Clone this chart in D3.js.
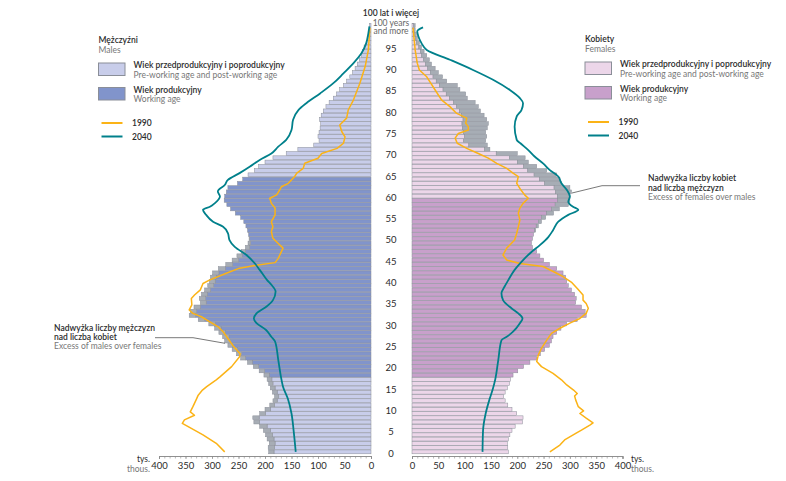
<!DOCTYPE html>
<html>
<head>
<meta charset="utf-8">
<script src="https://cdn.jsdelivr.net/npm/d3@7"></script>
<style>
  body { margin: 0; background: #fff; }
  svg { font-family: Lato, "Noto Sans", sans-serif; }
</style>
</head>
<body>
<svg id="chart" width="786" height="481"></svg>
<script>
// population by single year of age 0..100+, thousands
var males = [193,194,192,196,199,203,210,221,223,210,
  200,191,185,182,186,190,193,196,202,211,
  222,233,246,254,262,270,276,280,287,295,
  306,326,343,341,334,322,324,320,314,308,
  305,303,299,288,274,262,253,245,237,232,
  230,231,233,236,240,246,256,265,272,277,
  276,273,270,252,242,232,220,212,200,185,
  160,138,108,98,100,98,96,95,97,94,
  90,85,79,71,65,59,52,46,40,35,
  30,26,22,18,16,13,9,7,5,3,3];
var females = [183,182,181,183,186,190,196,210,211,199,
  190,182,177,174,177,181,185,187,192,201,
  212,224,237,244,252,261,265,268,275,283,
  294,314,331,329,322,311,312,309,303,297,
  294,292,287,275,261,250,243,237,229,227,
  229,231,235,240,246,254,269,280,297,300,
  300,303,300,284,281,275,256,237,221,215,
  200,148,143,140,142,140,143,145,142,137,
  130,126,120,105,102,91,86,66,58,50,
  44,37,33,28,23,18,14,10,8,6,6];

// [age, thousands]
var males1990 = [[0,276],[2,292],[4,317],[5.5,339],[6.7,356],[7.5,352],[8.6,333],[9.4,341],[10.6,336],[12.2,330],[13.3,326],[14.5,318],[15.3,310],[16.9,292],[17.6,285],[20,263],[22.3,248],[23,247],[24.7,259],[26.6,270],[28.2,279],[29.4,289],[30.5,304],[31.7,320],[32.5,336],[33.3,343],[34.5,338],[36,339],[36.8,333],[38,322],[39.5,317],[40.3,305],[41.9,273],[43.1,248],[43.8,216],[44.4,181],[45.4,175],[47.8,166],[48.9,175],[50.1,185],[51.7,188],[52.8,185],[54,188],[55.6,181],[57.2,181],[58.3,188],[59.5,191],[60.3,178],[61.5,172],[62.2,169],[63,156],[64.6,144],[65.4,140],[66.5,128],[67.7,125],[68.9,100],[70,93],[71.2,64],[72.4,52],[73.9,49],[75.1,55],[76.7,59],[78.3,46],[80.2,43],[82.6,33],[86.5,21],[90.4,11],[94.3,5],[99.5,2]];
var females1990 = [[0,262],[1.6,281],[2.8,290],[4.4,312],[5.1,322],[6.3,338],[6.8,344],[7.9,331],[9,319],[9.6,326],[10.6,316],[12.2,311],[13.1,309],[13.7,314],[14.5,307],[15.7,294],[16.9,284],[18.4,268],[20,246],[21.2,237],[22.7,240],[24.3,246],[26.2,256],[27.8,265],[29,281],[30.2,300],[31.3,319],[32.5,331],[33.7,335],[34.8,331],[35.6,325],[36.8,325],[38.2,315],[39.7,304],[41.1,287],[41.9,275],[43.5,249],[44.2,205],[45,180],[46.2,173],[47.8,180],[49.7,195],[51.3,199],[52.8,202],[54.4,205],[56,202],[57.2,205],[58.3,211],[59.5,221],[60.3,214],[61.8,205],[63,199],[64.6,202],[65.4,192],[66.5,180],[67.7,161],[68.9,145],[70,126],[71.2,104],[72.4,86],[73.6,82],[74.7,88],[75.5,107],[76.3,107],[77.1,102],[78.3,104],[79.4,85],[81,72],[82.6,56],[84.9,44],[88,28],[89.6,14],[91.2,10],[94.3,6],[99.5,2]];
var males2040 = [[0,142],[5,146],[9,150],[12.5,157],[15.3,166],[17,169],[21.6,175],[25.9,181],[27,188],[28.6,198],[30.2,216],[31.3,221],[32.5,216],[34.1,197],[35.6,185],[37.6,180],[39.2,188],[40.3,196],[42.7,210],[44.2,219],[46.2,235],[48.1,257],[49.7,267],[51.3,270],[52.8,279],[54,298],[55.6,311],[56.8,317],[57.5,304],[58.3,295],[59.9,285],[61.1,289],[62.6,276],[63.8,270],[65.4,248],[66.9,229],[68.5,210],[70,188],[71.6,175],[73.2,160],[75.5,150],[77.9,147],[80.2,137],[81.8,122],[84.1,96],[86.5,71],[88.8,52],[91.2,33],[93.5,18],[95.9,9],[98.2,5],[99.8,3]];
var females2040 = [[0,134],[5,135],[9,140],[12.2,147],[14.5,153],[16.9,158],[21.6,164],[26.2,170],[27,180],[28.2,192],[30.2,205],[31.3,210],[32.5,202],[33.7,189],[35.6,173],[37.2,170],[38.8,176],[40.3,183],[42.7,195],[44.6,208],[46.9,227],[48.5,243],[50.4,259],[52,268],[54,278],[55.6,297],[56.8,316],[57.5,306],[58.7,297],[59.9,300],[61.5,294],[63,284],[64.6,278],[66.1,262],[67.7,249],[69.3,233],[70.8,221],[72.4,206],[73.2,199],[76.3,195],[78.7,199],[80.2,208],[81.8,211],[83,205],[84.9,186],[87.3,154],[89.6,116],[92,72],[94.3,28],[95.9,18],[97.5,12],[98.7,10],[99.6,21]];

var ageTicks = d3.range(0, 100, 5);
var valueTicks = [0, 50, 100, 150, 200, 250, 300, 350, 400];
var workAge = {m: [18, 64], f: [18, 59]};

var col = {
  mLight: "#c8cdea", mDark: "#8194cb",
  fLight: "#ecd6e9", fDark: "#c8a0cb",
  excess: "#a7adb5", stroke: "#8a8e98",
  y1990: "#fbb316", y2040: "#00808b",
  text: "#2b2b2b", sub: "#777"
};

var svg = d3.select("#chart");
var y = d3.scaleLinear().domain([0, 101]).range([454, 23.5]);
var xL = d3.scaleLinear().domain([0, 400]).range([371, 159]);
var xR = d3.scaleLinear().domain([0, 400]).range([412, 622.5]);
var ages = d3.range(0, 101);

function drawSide(xs, own, other, light, dark, range) {
  var g = svg.append("g");
  ages.forEach(function (a) {
    var v = own[a], o = other[a], base = Math.min(v, o);
    var working = a >= range[0] && a <= range[1];
    var top = y(a + 1) + 0.2, h = y(a) - y(a + 1) - 0.4;
    g.append("rect")
      .attr("x", Math.min(xs(0), xs(base))).attr("y", top)
      .attr("width", Math.abs(xs(base) - xs(0))).attr("height", h)
      .attr("fill", working ? dark : light)
      .attr("stroke", col.stroke).attr("stroke-width", 0.5);
    if (v > o) {
      g.append("rect")
        .attr("x", Math.min(xs(base), xs(v))).attr("y", top)
        .attr("width", Math.abs(xs(v) - xs(base))).attr("height", h)
        .attr("fill", col.excess)
        .attr("stroke", col.stroke).attr("stroke-width", 0.5);
    }
  });
}
drawSide(xL, males, females, col.mLight, col.mDark, workAge.m);
drawSide(xR, females, males, col.fLight, col.fDark, workAge.f);

function drawLine(xs, data, color, w, curve) {
  var line = d3.line()
    .x(function (d) { return xs(d[1]); })
    .y(function (d) { return y(d[0] + 0.5); })
    .curve(curve);
  svg.append("path").datum(data)
    .attr("d", line).attr("fill", "none")
    .attr("stroke", color).attr("stroke-width", w)
    .attr("stroke-linejoin", "round");
}
drawLine(xL, males1990, col.y1990, 1.5, d3.curveLinear);
drawLine(xR, females1990, col.y1990, 1.5, d3.curveLinear);
drawLine(xL, males2040, col.y2040, 1.8, d3.curveMonotoneY);
drawLine(xR, females2040, col.y2040, 1.8, d3.curveMonotoneY);

// bottom axes
function drawAxis(xs) {
  var minor = svg.append("g").attr("transform", "translate(0,456)")
    .call(d3.axisBottom(xs).tickValues(d3.range(0, 401, 10)).tickSize(2.5).tickFormat(""));
  var major = svg.append("g").attr("transform", "translate(0,456)")
    .call(d3.axisBottom(xs).tickValues(valueTicks).tickSize(3).tickPadding(3));
  [minor, major].forEach(function (g) {
    g.select(".domain").attr("stroke", "#8c8c8c").attr("stroke-width", 0.8);
    g.selectAll(".tick line").attr("stroke", "#8c8c8c").attr("stroke-width", 0.6);
  });
  major.selectAll("text").attr("font-size", 9.5).attr("fill", col.text)
    .attr("font-family", "Lato, 'Noto Sans', sans-serif");
}
drawAxis(xL);
drawAxis(xR);

// age labels
svg.append("g").selectAll("text").data(ageTicks).join("text")
  .attr("x", 391).attr("y", function (a) { return y(a + 0.5) + 4.7; })
  .attr("text-anchor", "middle").attr("font-size", 9.5).attr("fill", col.text)
  .text(function (a) { return a; });

function txt(x, yy, s, opt) {
  opt = opt || {};
  return svg.append("text").attr("x", x).attr("y", yy)
    .attr("font-size", opt.size || 8.5)
    .attr("font-weight", opt.bold ? 600 : 400)
    .attr("fill", opt.fill || col.text)
    .attr("text-anchor", opt.anchor || "start")
    .text(s);
}
txt(391, 16, "100 lat i więcej", {anchor: "middle", bold: true});
txt(391, 25.5, "100 years", {anchor: "middle", fill: "#666", size: 8.5});
txt(391, 34, "and more", {anchor: "middle", fill: "#666", size: 8.5});

txt(150, 462, "tys.", {anchor: "end", size: 8.5});
txt(150, 471.5, "thous.", {anchor: "end", size: 8.5, fill: col.sub});
txt(631, 462, "tys.", {size: 8.5});
txt(631, 471.5, "thous.", {size: 8.5, fill: col.sub});

function legend(x0, tx, y0, title, sub, light, dark) {
  txt(x0, y0, title, {bold: true});
  txt(x0, y0 + 10, sub, {fill: col.sub});
  var boxes = [
    [light, "Wiek przedprodukcyjny i poprodukcyjny", "Pre-working age and post-working age"],
    [dark, "Wiek produkcyjny", "Working age"]
  ];
  boxes.forEach(function (b, i) {
    var by = y0 + 20 + i * 24.5;
    svg.append("rect").attr("x", x0).attr("y", by).attr("width", 26.5).attr("height", 12.5)
      .attr("fill", b[0]).attr("stroke", col.stroke).attr("stroke-width", 1);
    txt(tx, by + 5, b[1], {bold: true});
    txt(tx, by + 14.5, b[2], {fill: col.sub});
  });
  [["1990", col.y1990], ["2040", col.y2040]].forEach(function (l, i) {
    var ly = y0 + 80 + i * 13.5;
    svg.append("line").attr("x1", x0 + 3).attr("x2", x0 + 24).attr("y1", ly).attr("y2", ly)
      .attr("stroke", l[1]).attr("stroke-width", 2);
    txt(tx - 1.5, ly + 3, l[0], {bold: true});
  });
}
legend(98.5, 133.5, 43, "Mężczyźni", "Males", col.mLight, col.mDark);
legend(585, 620, 42, "Kobiety", "Females", col.fLight, col.fDark);

// annotations
svg.append("path").attr("d", "M572,193 L602,185.7 L640,185.7")
  .attr("fill", "none").attr("stroke", "#555").attr("stroke-width", 0.8);
txt(648, 181, "Nadwyżka liczby kobiet", {size: 8.5, bold: true});
txt(648, 190.5, "nad liczbą mężczyzn", {size: 8.5, bold: true});
txt(648, 199.5, "Excess of females over males", {size: 8.5, fill: col.sub});

svg.append("path").attr("d", "M155,337.7 L193,337.7 L225,343.3")
  .attr("fill", "none").attr("stroke", "#555").attr("stroke-width", 0.8);
txt(54, 331, "Nadwyżka liczby mężczyzn", {size: 8.5, bold: true});
txt(54, 340, "nad liczbą kobiet", {size: 8.5, bold: true});
txt(54, 349, "Excess of males over females", {size: 8.5, fill: col.sub});
</script>
</body>
</html>
